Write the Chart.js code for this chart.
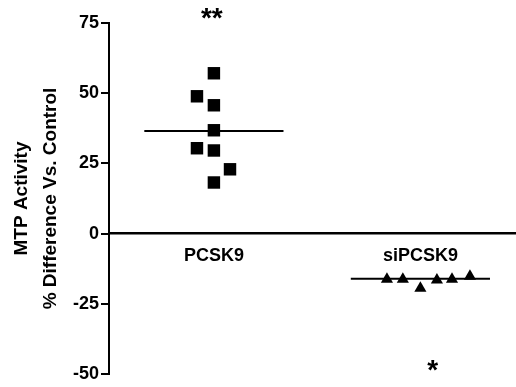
<!DOCTYPE html>
<html>
<head>
<meta charset="utf-8">
<script src="https://cdn.jsdelivr.net/npm/chart.js@4.4.0/dist/chart.umd.min.js"></script>
<style>
  html, body { margin: 0; padding: 0; background: #fff; overflow: hidden; }
  #wrap { width: 516px; height: 387px; }
</style>
</head>
<body>
<div id="wrap"><canvas id="mtpChart"></canvas></div>
<script>
// groups on the x axis
const categories = ['PCSK9', 'siPCSK9'];

// individual values (% difference vs. control)
const pcsk9Values = [57.1, 48.9, 45.7, 36.8, 30.4, 29.6, 22.9, 18.2];
const pcsk9Jitter = [0, -0.082, 0, 0, -0.082, 0, 0.078, 0];
const sipcsk9Values = [-16.3, -16.3, -19.5, -16.5, -16.3, -15.2];
const sipcsk9Jitter = [-0.162, -0.085, 0, 0.08, 0.153, 0.24];

// group means (horizontal bars)
const groupMeans = [36.5, -16.1];
const meanHalfWidth = 0.337;

// y axis ticks
const yTicks = [-50, -25, 0, 25, 50, 75];

// significance marks: [category index, x shift, y value, text]
const sigMarks = [
    { cat: 0, dx: -0.01, y: 78, text: '**' },
    { cat: 1, dx: 0.06, y: -47.2, text: '*' }
];

const FONT = "'Liberation Sans', Arial, sans-serif";

function toPoints(values, jitter, catIndex) {
    return values.map((v, i) => ({ x: catIndex + 1 + jitter[i], y: v }));
}

function meanLine(catIndex) {
    const c = catIndex + 1;
    return [
        { x: c - meanHalfWidth, y: groupMeans[catIndex] },
        { x: c + meanHalfWidth, y: groupMeans[catIndex] }
    ];
}

// draws the asterisks as text above/below the groups
const sigPlugin = {
    id: 'sigMarks',
    afterDraw(chart) {
        const { ctx, scales } = chart;
        const size = 28;
        ctx.save();
        ctx.fillStyle = '#000';
        ctx.font = 'bold ' + size + 'px ' + FONT;
        ctx.textAlign = 'center';
        ctx.textBaseline = 'alphabetic';
        sigMarks.forEach(m => {
            const px = scales.x.getPixelForValue(m.cat + 1 + m.dx);
            const py = scales.y.getPixelForValue(m.y);
            ctx.fillText(m.text, px, py + size * 0.45);
        });
        ctx.restore();
    }
};

const ctx = document.getElementById('mtpChart').getContext('2d');
new Chart(ctx, {
    type: 'scatter',
    data: {
        datasets: [
            {
                data: toPoints(pcsk9Values, pcsk9Jitter, 0),
                pointStyle: 'rect',
                pointRadius: 8.8,
                pointBorderWidth: 0,
                backgroundColor: '#000',
                borderColor: '#000'
            },
            {
                data: toPoints(sipcsk9Values, sipcsk9Jitter, 1),
                pointStyle: 'triangle',
                pointRadius: 7,
                pointBorderWidth: 0,
                backgroundColor: '#000',
                borderColor: '#000'
            },
            {
                type: 'line',
                data: meanLine(0),
                borderColor: '#000',
                borderWidth: 2,
                pointRadius: 0
            },
            {
                type: 'line',
                data: meanLine(1),
                borderColor: '#000',
                borderWidth: 2,
                pointRadius: 0
            }
        ]
    },
    options: {
        responsive: true,
        maintainAspectRatio: false,
        animation: false,
        layout: {
            autoPadding: false,
            padding: { top: 23, bottom: 13, left: 0, right: 0 }
        },
        scales: {
            x: {
                type: 'linear',
                position: { y: 0 },
                min: 0.492,
                max: 2.463,
                grid: { display: false },
                border: { display: true, color: '#000', width: 2.5 },
                afterBuildTicks: (scale) => {
                    scale.ticks = categories.map((c, i) => ({ value: i + 1 }));
                },
                ticks: {
                    autoSkip: false,
                    maxRotation: 0,
                    padding: 4,
                    color: '#000',
                    font: { family: FONT, size: 18, weight: 'bold' },
                    callback: (value) => categories[value - 1]
                }
            },
            y: {
                min: -50,
                max: 75,
                afterFit: (scale) => { scale.width = 109; },
                afterBuildTicks: (scale) => {
                    scale.ticks = yTicks.map(v => ({ value: v }));
                },
                grid: {
                    display: true,
                    drawOnChartArea: false,
                    drawTicks: true,
                    tickLength: 8,
                    color: '#000',
                    lineWidth: 2
                },
                border: { display: true, color: '#000', width: 2 },
                ticks: {
                    padding: 2,
                    color: '#000',
                    font: { family: FONT, size: 18, weight: 'bold' }
                },
                title: {
                    display: true,
                    text: ['MTP Activity', '% Difference Vs. Control'],
                    color: '#000',
                    padding: { top: 7, bottom: 0 },
                    font: { family: FONT, size: 19, weight: 'bold', lineHeight: 1.55 }
                }
            }
        },
        plugins: {
            legend: { display: false },
            tooltip: { enabled: false }
        }
    },
    plugins: [sigPlugin]
});
</script>
</body>
</html>
